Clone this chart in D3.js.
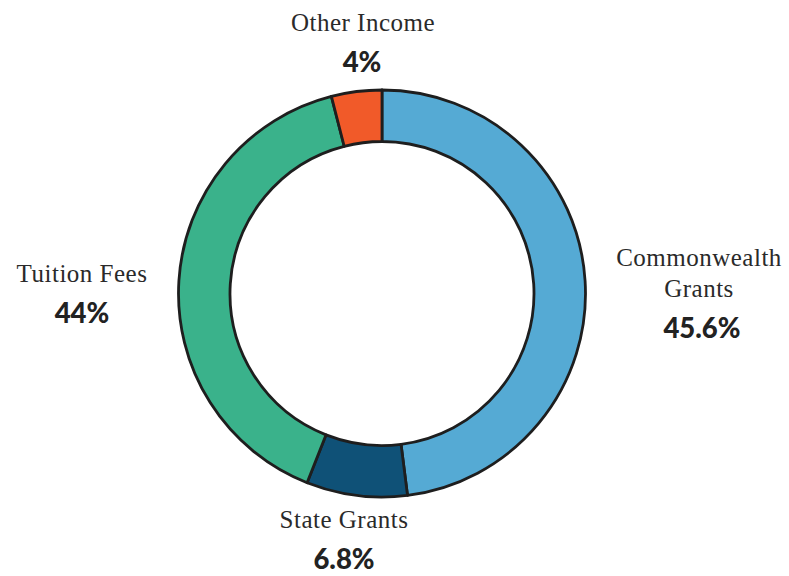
<!DOCTYPE html>
<html><head><meta charset="utf-8">
<script src="https://cdn.jsdelivr.net/npm/d3@7"></script>
<style>body{margin:0;background:#fff}svg{display:block}</style>
</head><body>
<svg id="chart" width="789" height="576"></svg>
<script>
const categories = ["Commonwealth Grants", "State Grants", "Tuition Fees", "Other Income"];
const labelLines = [["Commonwealth", "Grants"], ["State Grants"], ["Tuition Fees"], ["Other Income"]];
// slice sizes as drawn in the picture (degrees measured off the ring)
const sliceValues = [48, 8, 40, 4];
// value labels as printed
const valueLabels = ["45.6%", "6.8%", "44%", "4%"];
const colors = ["#55aad4", "#0f5177", "#3ab28b", "#f15a29"];
// label anchor positions (layout only)
const labelPos = [[699, 266], [344, 528], [82, 282], [363, 31]];
const pctDx = [3, 0, 0, -1];

const svg = d3.select("#chart");
const cx = 382, cy = 293.5, R = 203.5, r = 152;
const pie = d3.pie().sort(null).value(d => d)(sliceValues);
const arc = d3.arc().innerRadius(r).outerRadius(R);
const g = svg.append("g").attr("transform", `translate(${cx},${cy})`);
g.selectAll("path").data(pie).join("path")
  .attr("d", arc)
  .attr("fill", (d, i) => colors[i])
  .attr("stroke", "#1e1e1e")
  .attr("stroke-width", 2.8)
  .attr("stroke-linejoin", "round");

categories.forEach((c, i) => {
  const [x, y] = labelPos[i];
  const lines = labelLines[i];
  const t = svg.append("text").attr("x", x).attr("y", y)
    .attr("text-anchor", "middle")
    .attr("font-family", "'Liberation Serif', 'DejaVu Serif', serif")
    .attr("font-size", 25).attr("letter-spacing", 0.5)
    .attr("fill", "#2a2a2a");
  lines.forEach((ln, j) => {
    t.append("tspan").attr("x", x).attr("dy", j === 0 ? 0 : 30.5).text(ln);
  });
  svg.append("text").attr("x", x + pctDx[i]).attr("y", y + (lines.length - 1) * 30.5 + 41)
    .attr("text-anchor", "middle")
    .attr("font-family", "Lato, 'Open Sans', sans-serif")
    .attr("font-weight", 900).attr("font-size", 27.5)
    .attr("fill", "#222")
    .text(valueLabels[i]);
});
</script>
</body></html>
